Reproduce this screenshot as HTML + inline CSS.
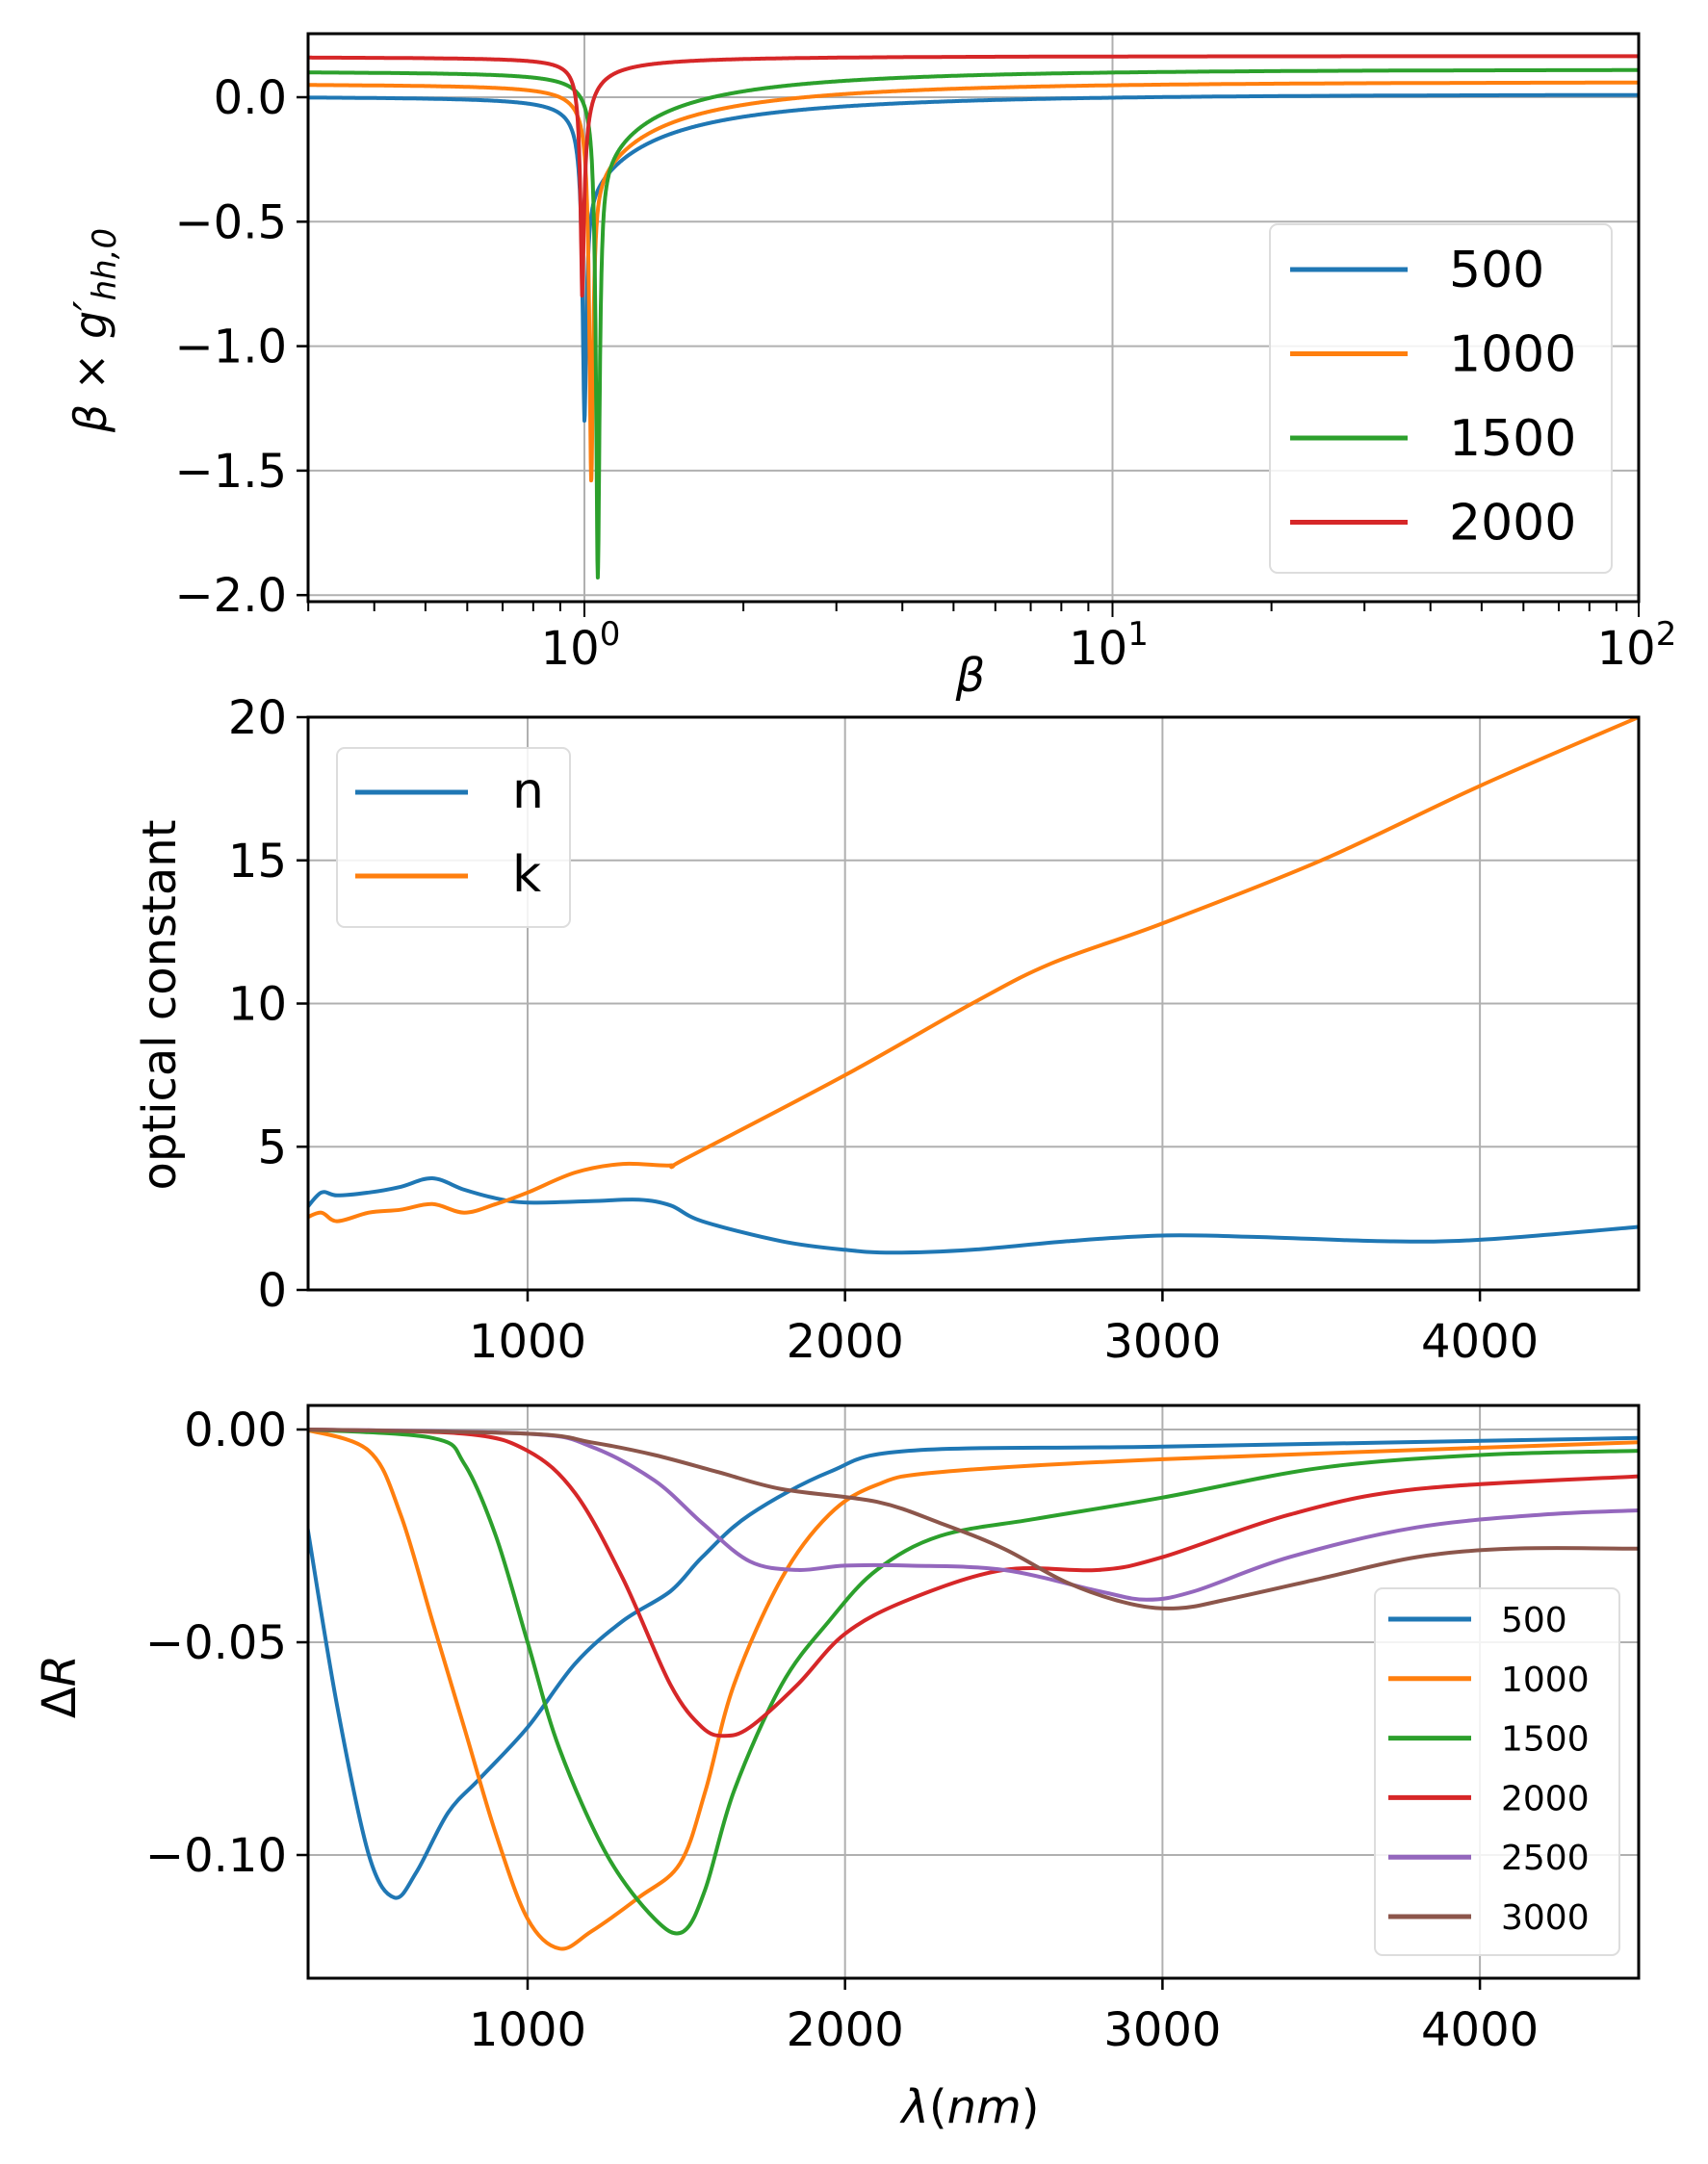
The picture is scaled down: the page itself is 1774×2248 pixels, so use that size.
<!DOCTYPE html>
<html><head><meta charset="utf-8"><style>
html,body{margin:0;padding:0;background:#fff}
svg text{font-family:"DejaVu Sans","Liberation Sans",sans-serif;fill:#000}
</style></head><body>
<svg id="s" width="1774" height="2243" viewBox="0 0 1774 2243" xmlns="http://www.w3.org/2000/svg"></svg>
<script>
const S=document.getElementById('s');let H='';
const C=['#1f77b4','#ff7f0e','#2ca02c','#d62728','#9467bd','#8c564b'];
function cr(pts){let d='M'+pts[0][0].toFixed(1)+','+pts[0][1].toFixed(1);
 for(let i=0;i<pts.length-1;i++){const p0=pts[Math.max(0,i-1)],p1=pts[i],p2=pts[i+1],p3=pts[Math.min(pts.length-1,i+2)];
 const c1=[p1[0]+(p2[0]-p0[0])/6,p1[1]+(p2[1]-p0[1])/6],c2=[p2[0]-(p3[0]-p1[0])/6,p2[1]-(p3[1]-p1[1])/6];
 d+='C'+c1.map(v=>v.toFixed(1))+' '+c2.map(v=>v.toFixed(1))+' '+p2[0].toFixed(1)+','+p2[1].toFixed(1);}return d;}
function line(x1,y1,x2,y2,c,w){H+=`<line x1="${x1}" y1="${y1}" x2="${x2}" y2="${y2}" stroke="${c}" stroke-width="${w}"/>`;}
function txt(x,y,s,sz,anc,extra=''){H+=`<text x="${x}" y="${y}" font-size="${sz}" text-anchor="${anc}" ${extra}>${s}</text>`;}
const L=320,R=1702;
// ---------- Top panel
{const T=35,B=625;const X=b=>607+548.5*Math.log10(b);const Y=v=>101-258.6*v;
H+=`<clipPath id="c1"><rect x="${L}" y="${T}" width="${R-L}" height="${B-T}"/></clipPath>`;
[1,10].forEach(b=>line(X(b),T,X(b),B,'#b0b0b0',2));
[0,-0.5,-1,-1.5,-2].forEach(v=>line(L,Y(v),R,Y(v),'#b0b0b0',2));
const ser=[[0.01,0.11,0.008,1.0,-1.3],[0.06,0.11,0.008,1.03,-1.55],[0.11,0.10,0.008,1.06,-1.93],[0.165,0.012,0.004,0.99,-0.8]];
ser.forEach((s,i)=>{const [off,kr,kl,b0,mn]=s;let pts=[];const tm=0.45;
 for(let j=0;j<=4000;j++){const lb=-0.53+j*(2.53/4000);const b=Math.pow(10,lb);
  let t=b>=b0?kr/(b-b0+kr/tm):kl/(b0-b+kl/tm);
  const sp=(-mn+off-tm)/(1+Math.pow((b-b0)/0.01,2));
  let v=off-t-sp;if(v<mn)v=mn;pts.push(X(b).toFixed(1)+','+Y(v).toFixed(1));}
 H+=`<polyline clip-path="url(#c1)" points="${pts.join(' ')}" fill="none" stroke="${C[i]}" stroke-width="4" stroke-linejoin="round"/>`;});
H+=`<rect x="${L}" y="${T}" width="${R-L}" height="${B-T}" fill="none" stroke="#000" stroke-width="3"/>`;
[0,-0.5,-1,-1.5,-2].forEach(v=>{line(L-12,Y(v),L,Y(v),'#000',2.5);txt(L-22,Y(v)+17,(v===0?'0.0':'\u2212'+Math.abs(v).toFixed(1)),48,'end');});
for(let d=-1;d<2;d++)for(let m=1;m<10;m++){const b=m*Math.pow(10,d);const x=X(b);if(x<L-1||x>R+1)continue;line(x,B,x,B+(m===1?16:10),'#000',2);}
line(R,B,R,B+16,'#000',2);
[[1,'0'],[10,'1'],[100,'2']].forEach(([b,e])=>{H+=`<text x="${X(b)-4}" y="690" font-size="48" text-anchor="middle">10<tspan dy="-20" font-size="34">${e}</tspan></text>`;});
txt(1008,718,'β',48,'middle','font-style="italic"');
H+=`<text transform="translate(110,343) rotate(-90)" font-size="46" text-anchor="middle" font-style="italic">β × g′<tspan dy="10" font-size="34">hh,0</tspan></text>`;
H+=`<rect x="1319" y="233" width="355" height="362" rx="8" fill="#fff" fill-opacity="0.85" stroke="#ddd" stroke-width="2"/>`;
['500','1000','1500','2000'].forEach((t,i)=>{const y=280+i*87.5;line(1340,y,1462,y,C[i],5);txt(1505,y+18,t,52,'start');});}
// ---------- Middle panel
const XL=l=>548+(l-1000)*0.3297;
{const T=745,B=1340;const Y=v=>1340-29.75*v;
H+=`<clipPath id="c2"><rect x="${L}" y="${T}" width="${R-L}" height="${B-T}"/></clipPath>`;
[1000,2000,3000,4000].forEach(l=>line(XL(l),T,XL(l),B,'#b0b0b0',2));
[0,5,10,15,20].forEach(v=>line(L,Y(v),R,Y(v),'#b0b0b0',2));
const n=[[300,2.8],[350,3.4],[400,3.3],[500,3.4],[600,3.6],[700,3.9],[800,3.5],[900,3.2],[1000,3.05],[1200,3.1],[1350,3.15],[1450,2.95],[1550,2.4],[1800,1.7],[2000,1.4],[2150,1.3],[2400,1.4],[2700,1.7],[3000,1.9],[3300,1.85],[3700,1.7],[4000,1.75],[4500,2.2]];
const k=[[300,2.5],[350,2.7],[400,2.4],[500,2.7],[600,2.8],[700,3.0],[800,2.7],[900,3.0],[1000,3.4],[1150,4.1],[1300,4.4],[1450,4.35],[1500,4.6],[2000,7.5],[2400,10],[2650,11.4],[3000,12.8],[3500,15],[4000,17.6],[4500,20]];
[n,k].forEach((d,i)=>H+=`<path clip-path="url(#c2)" d="${cr(d.map(p=>[XL(p[0]),Y(p[1])]))}" fill="none" stroke="${C[i]}" stroke-width="4"/>`);
H+=`<rect x="${L}" y="${T}" width="${R-L}" height="${B-T}" fill="none" stroke="#000" stroke-width="3"/>`;
[0,5,10,15,20].forEach(v=>{line(L-12,Y(v),L,Y(v),'#000',2.5);txt(L-22,Y(v)+17,v,48,'end');});
[1000,2000,3000,4000].forEach(l=>{line(XL(l),B,XL(l),B+12,'#000',2.5);txt(XL(l),1410,l,48,'middle');});
H+=`<text transform="translate(182,1044) rotate(-90)" font-size="48" text-anchor="middle">optical constant</text>`;
H+=`<rect x="350" y="777" width="242" height="186" rx="8" fill="#fff" fill-opacity="0.85" stroke="#ddd" stroke-width="2"/>`;
['n','k'].forEach((t,i)=>{const y=823+i*87;line(369,y,486,y,C[i],5);txt(532,y+16,t,52,'start');});}
// ---------- Bottom panel
{const T=1460,B=2055;const Y=v=>1485-4420*v;
H+=`<clipPath id="c3"><rect x="${L}" y="${T}" width="${R-L}" height="${B-T}"/></clipPath>`;
[1000,2000,3000,4000].forEach(l=>line(XL(l),T,XL(l),B,'#b0b0b0',2));
[0,-0.05,-0.1].forEach(v=>line(L,Y(v),R,Y(v),'#b0b0b0',2));
const D=[
[[300,-0.02],[400,-0.065],[500,-0.1],[580,-0.11],[650,-0.104],[750,-0.09],[850,-0.082],[1000,-0.07],[1150,-0.055],[1300,-0.045],[1450,-0.038],[1550,-0.03],[1700,-0.02],[1950,-0.01],[2200,-0.005],[3000,-0.004],[4500,-0.002]],
[[300,0],[500,-0.005],[600,-0.02],[700,-0.045],[800,-0.07],[900,-0.095],[1000,-0.115],[1100,-0.122],[1200,-0.118],[1350,-0.11],[1480,-0.102],[1560,-0.085],[1650,-0.06],[1800,-0.035],[1950,-0.02],[2100,-0.013],[2300,-0.01],[3000,-0.007],[4500,-0.003]],
[[300,0],[700,-0.002],[800,-0.008],[900,-0.025],[1000,-0.05],[1100,-0.075],[1250,-0.1],[1400,-0.115],[1490,-0.118],[1560,-0.108],[1650,-0.085],[1800,-0.06],[1950,-0.045],[2100,-0.033],[2300,-0.025],[2600,-0.021],[3000,-0.016],[3500,-0.009],[4000,-0.006],[4500,-0.005]],
[[300,0],[800,-0.001],[1000,-0.005],[1150,-0.015],[1300,-0.035],[1450,-0.06],[1550,-0.07],[1620,-0.072],[1700,-0.07],[1850,-0.06],[2000,-0.048],[2200,-0.04],[2500,-0.033],[2800,-0.033],[3000,-0.03],[3400,-0.02],[3800,-0.014],[4500,-0.011]],
[[300,0],[1000,-0.001],[1200,-0.004],[1400,-0.012],[1550,-0.022],[1700,-0.031],[1850,-0.033],[2000,-0.032],[2200,-0.032],[2500,-0.033],[2800,-0.038],[2950,-0.04],[3100,-0.038],[3400,-0.03],[3800,-0.023],[4200,-0.02],[4500,-0.019]],
[[300,0],[1000,-0.001],[1200,-0.003],[1400,-0.006],[1600,-0.01],[1800,-0.014],[2100,-0.017],[2300,-0.022],[2500,-0.028],[2700,-0.036],[2900,-0.041],[3050,-0.042],[3200,-0.04],[3500,-0.035],[3800,-0.03],[4100,-0.028],[4500,-0.028]]];
D.forEach((d,i)=>H+=`<path clip-path="url(#c3)" d="${cr(d.map(p=>[XL(p[0]),Y(p[1])]))}" fill="none" stroke="${C[i]}" stroke-width="4"/>`);
H+=`<rect x="${L}" y="${T}" width="${R-L}" height="${B-T}" fill="none" stroke="#000" stroke-width="3"/>`;
[[0,'0.00'],[-0.05,'\u22120.05'],[-0.1,'\u22120.10']].forEach(([v,s])=>{line(L-12,Y(v),L,Y(v),'#000',2.5);txt(L-22,Y(v)+17,s,48,'end');});
[1000,2000,3000,4000].forEach(l=>{line(XL(l),B,XL(l),B+12,'#000',2.5);txt(XL(l),2125,l,48,'middle');});
txt(1008,2205,'<tspan font-style="italic">λ</tspan>(<tspan font-style="italic">nm</tspan>)',48,'middle');
H+=`<text transform="translate(78,1752) rotate(-90)" font-size="48" text-anchor="middle">Δ<tspan font-style="italic">R</tspan></text>`;
H+=`<rect x="1428" y="1650" width="254" height="381" rx="8" fill="#fff" fill-opacity="0.85" stroke="#ddd" stroke-width="2"/>`;
['500','1000','1500','2000','2500','3000'].forEach((t,i)=>{const y=1682+i*61.8;line(1442,y,1528,y,C[i],5);txt(1559,y+13,t,36,'start');});}
S.innerHTML=H;
</script>
</body></html>
